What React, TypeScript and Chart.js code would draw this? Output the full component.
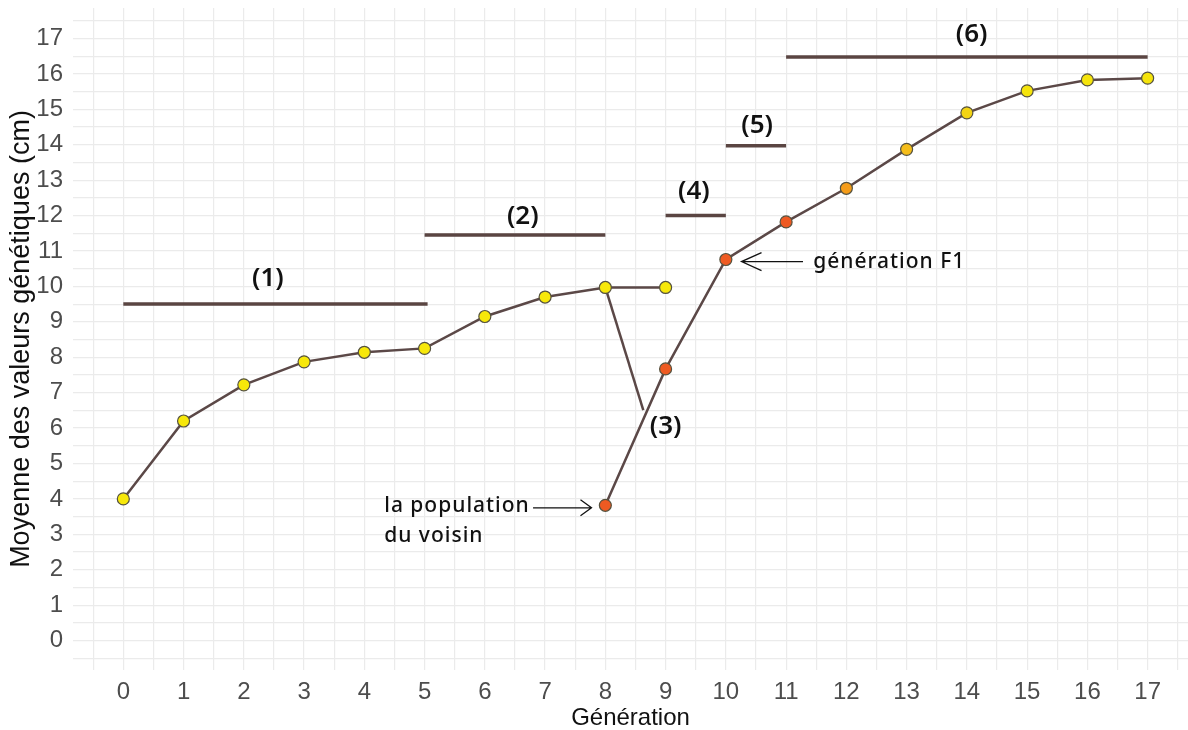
import React, { useEffect, useRef } from 'react';
import { Chart, registerables } from 'chart.js';

Chart.register(...registerables);

// ---- data ----
const mainGenerations = [0, 1, 2, 3, 4, 5, 6, 7, 8, 9];
const mainValues = [4.0, 6.2, 7.22, 7.87, 8.14, 8.25, 9.15, 9.7, 9.97, 9.97];
const mainColors = ['#f7e80a', '#f7e80a', '#f7e80a', '#f7e80a', '#f7e80a', '#f7e80a', '#f7e80a', '#f7e80a', '#f7e80a', '#f7e80a'];

const neighbourGenerations = [8, 9, 10, 11, 12, 13, 14, 15, 16, 17];
const neighbourValues = [3.82, 7.67, 10.76, 11.82, 12.77, 13.87, 14.9, 15.52, 15.83, 15.88];
const neighbourColors = ['#ee5a22', '#ee5a22', '#ee5a22', '#ee5a22', '#f59c18', '#f5bd1a', '#f3d414', '#f5e40c', '#f5e40c', '#f5e40c'];

const phaseLabels = ['(1)', '(2)', '(4)', '(5)', '(6)'];
const phaseStart = [0, 5, 9, 10, 11];
const phaseEnd = [5.05, 8, 10, 11, 17];
const phaseLevel = [9.5, 11.45, 12, 13.97, 16.48];
const phaseLabelX = [2.4, 6.63, 9.47, 10.52, 14.08];
const phaseLabelY = [10.21, 11.96, 12.67, 14.54, 17.1];

const crossLabel = '(3)';
const crossLineX = [8, 8.63];
const crossLineY = [9.97, 6.51];
const crossLabelX = 9.0;
const crossLabelY = 6.03;

const neighbourNote = ['la population', 'du voisin'];
const neighbourNoteX = 4.33;
const neighbourNoteY = [3.62, 2.79];
const neighbourArrow = { from: 6.8, to: 7.77, y: 3.75 };

const f1Note = 'génération F1';
const f1NoteX = 11.45;
const f1NoteY = 10.51;
const f1Arrow = { from: 11.28, to: 10.26, y: 10.7 };

const xTickLabels = ['0', '1', '2', '3', '4', '5', '6', '7', '8', '9', '10', '11', '12', '13', '14', '15', '16', '17'];
const yTickLabels = ['0', '1', '2', '3', '4', '5', '6', '7', '8', '9', '10', '11', '12', '13', '14', '15', '16', '17'];

const xTitle = 'Génération';
const yTitle = 'Moyenne des valeurs génétiques (cm)';

// ---- helpers ----
const gridValues = (labels: string[]) => {
  const out: number[] = [];
  labels.forEach((l) => {
    const v = Number(l);
    out.push(v - 0.5, v);
  });
  out.push(Number(labels[labels.length - 1]) + 0.5);
  return out;
};

const LINE = '#5b4847';
const BAR = '#5a4542';

const drawArrow = (ctx: CanvasRenderingContext2D, x1: number, x2: number, y: number, headLen: number, headHalf: number) => {
  ctx.beginPath();
  ctx.moveTo(x1, y);
  ctx.lineTo(x2, y);
  const dir = x2 > x1 ? -1 : 1;
  ctx.moveTo(x2 + dir * headLen, y - headHalf);
  ctx.lineTo(x2, y);
  ctx.lineTo(x2 + dir * headLen, y + headHalf);
  ctx.stroke();
};

const annotationPlugin = {
  id: 'annotationPlugin',
  afterDatasetsDraw(chart: any) {
    const { ctx } = chart;
    const x = chart.scales.x;
    const y = chart.scales.y;
    ctx.save();
    ctx.fillStyle = '#111111';
    ctx.textAlign = 'center';
    ctx.textBaseline = 'middle';
    ctx.font = '600 26px "Noto Sans"';
    phaseLabels.forEach((t, i) => {
      ctx.fillText(t, x.getPixelForValue(phaseLabelX[i]), y.getPixelForValue(phaseLabelY[i]));
    });
    ctx.fillText(crossLabel, x.getPixelForValue(crossLabelX), y.getPixelForValue(crossLabelY));

    ctx.font = '500 21px "Noto Sans"';
    (ctx as any).letterSpacing = '1px';
    ctx.textAlign = 'left';
    ctx.textBaseline = 'alphabetic';
    neighbourNote.forEach((t, i) => {
      ctx.fillText(t, x.getPixelForValue(neighbourNoteX), y.getPixelForValue(neighbourNoteY[i]));
    });
    ctx.fillText(f1Note, x.getPixelForValue(f1NoteX), y.getPixelForValue(f1NoteY));

    ctx.strokeStyle = '#111111';
    ctx.lineWidth = 1.3;
    drawArrow(ctx, x.getPixelForValue(neighbourArrow.from), x.getPixelForValue(neighbourArrow.to), y.getPixelForValue(neighbourArrow.y), 11, 8);
    drawArrow(ctx, x.getPixelForValue(f1Arrow.from), x.getPixelForValue(f1Arrow.to), y.getPixelForValue(f1Arrow.y), 20, 9);
    ctx.restore();
  },
};

export default function App() {
  const ref = useRef<HTMLCanvasElement | null>(null);

  useEffect(() => {
    document.body.style.margin = '0';
    if (!ref.current) return;

    const phaseDatasets = phaseLabels.map((label, i) => ({
      label,
      data: [
        { x: phaseStart[i], y: phaseLevel[i] },
        { x: phaseEnd[i], y: phaseLevel[i] },
      ],
      showLine: true,
      borderColor: BAR,
      borderWidth: 3.5,
      pointRadius: 0,
      order: 5,
    }));

    const chart = new Chart(ref.current, {
      type: 'scatter',
      data: {
        datasets: [
          ...phaseDatasets,
          {
            label: crossLabel,
            data: crossLineX.map((v, i) => ({ x: v, y: crossLineY[i] })),
            showLine: true,
            borderColor: LINE,
            borderWidth: 2.5,
            pointRadius: 0,
            order: 4,
          },
          {
            label: 'main',
            data: mainGenerations.map((g, i) => ({ x: g, y: mainValues[i] })),
            showLine: true,
            borderColor: LINE,
            borderWidth: 2.5,
            pointRadius: 6,
            pointBackgroundColor: mainColors,
            pointBorderColor: '#55523f',
            pointBorderWidth: 1.2,
            order: 1,
          },
          {
            label: 'neighbour',
            data: neighbourGenerations.map((g, i) => ({ x: g, y: neighbourValues[i] })),
            showLine: true,
            borderColor: LINE,
            borderWidth: 2.5,
            pointRadius: 6,
            pointBackgroundColor: neighbourColors,
            pointBorderColor: '#55523f',
            pointBorderWidth: 1.2,
            order: 1,
          },
        ],
      },
      options: {
        responsive: false,
        animation: false,
        layout: { autoPadding: false, padding: { top: 8, left: 0, right: 0, bottom: 0 } },
        plugins: {
          legend: { display: false },
          tooltip: { enabled: false },
        },
        scales: {
          x: {
            type: 'linear',
            min: -0.835,
            max: 17.67,
            afterBuildTicks: (scale: any) => {
              scale.ticks = gridValues(xTickLabels).map((v) => ({ value: v }));
            },
            afterFit: (scale: any) => {
              scale.height = 60;
              scale.paddingLeft = 0;
              scale.paddingRight = 0;
            },
            ticks: {
              autoSkip: false,
              maxRotation: 0,
              padding: 8,
              color: '#4d4d4d',
              font: { family: '"Liberation Sans", Arial, sans-serif', size: 24 },
              callback: (v: any) => {
                const idx = xTickLabels.indexOf(String(v));
                return idx >= 0 ? xTickLabels[idx] : '';
              },
            },
            grid: { color: '#ebebeb', lineWidth: 1.2, drawTicks: false },
            border: { display: false },
            title: {
              display: true,
              text: xTitle,
              color: '#111111',
              font: { family: '"Liberation Sans", Arial, sans-serif', size: 24 },
              padding: { top: 0, bottom: -3 },
            },
          },
          y: {
            type: 'linear',
            min: -0.83,
            max: 17.86,
            afterBuildTicks: (scale: any) => {
              scale.ticks = gridValues(yTickLabels).map((v) => ({ value: v }));
            },
            afterFit: (scale: any) => {
              scale.width = 73;
              scale.paddingTop = 0;
              scale.paddingBottom = 0;
            },
            ticks: {
              autoSkip: false,
              padding: 10,
              color: '#4d4d4d',
              font: { family: '"Liberation Sans", Arial, sans-serif', size: 24 },
              callback: (v: any) => {
                const idx = yTickLabels.indexOf(String(v));
                return idx >= 0 ? yTickLabels[idx] : '';
              },
            },
            grid: { color: '#ebebeb', lineWidth: 1.2, drawTicks: false },
            border: { display: false },
            title: {
              display: true,
              text: yTitle,
              color: '#111111',
              font: { family: '"Liberation Sans", Arial, sans-serif', size: 27 },
              padding: { top: 5, bottom: 0 },
            },
          },
        },
      },
      plugins: [annotationPlugin],
    } as any);

    return () => chart.destroy();
  }, []);

  return (
    <div style={{ width: 1188, height: 730, background: '#ffffff' }}>
      <canvas ref={ref} width={1188} height={730} style={{ display: 'block' }} />
    </div>
  );
}
